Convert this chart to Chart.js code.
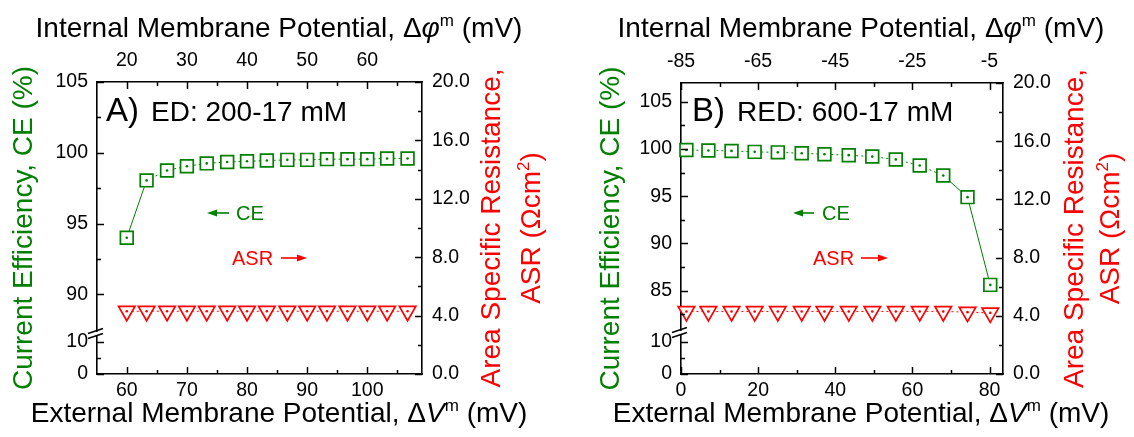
<!DOCTYPE html>
<html>
<head>
<meta charset="utf-8">
<script src="https://cdn.jsdelivr.net/npm/chart.js@4.4.1/dist/chart.umd.min.js"></script>
<style>
  html, body { margin: 0; padding: 0; background: #fff; }
  #wrap { position: relative; width: 1134px; height: 437px; }
  canvas { position: absolute; top: 0; }
</style>
</head>
<body>
<div id="wrap">
  <canvas id="chartED" width="567" height="437" style="left:0"></canvas>
  <canvas id="chartRED" width="567" height="437" style="left:567px"></canvas>
</div>
<script>
// ---- ED: 200-17 mM ----
const edVext = [60, 63.3, 66.7, 70, 73.3, 76.7, 80, 83.3, 86.7, 90, 93.3, 96.7, 100, 103.3, 106.7];
const edCE = [94.0, 98.05, 98.75, 99.05, 99.25, 99.35, 99.4, 99.45, 99.5, 99.5, 99.55, 99.55, 99.55, 99.6, 99.6];
const edASR = [4.3, 4.3, 4.3, 4.3, 4.3, 4.3, 4.3, 4.3, 4.3, 4.3, 4.3, 4.3, 4.3, 4.3, 4.3];

// ---- RED: 600-17 mM ----
const redVext = [1.4, 7.1, 13.1, 19.1, 25.1, 31.3, 37.2, 43.5, 49.6, 55.7, 61.9, 68.0, 74.3, 80.2];
const redCE = [99.9, 99.85, 99.8, 99.7, 99.65, 99.55, 99.45, 99.35, 99.2, 98.9, 98.25, 97.2, 94.9, 85.6];
const redASR = [4.3, 4.3, 4.3, 4.3, 4.3, 4.3, 4.3, 4.3, 4.3, 4.3, 4.3, 4.3, 4.25, 4.2];

// tick labels
const edExtTicks = [60, 70, 80, 90, 100];
const edIntTicks = [20, 30, 40, 50, 60];
const edCeTicks = [0, 10, 90, 95, 100, 105];
const redExtTicks = [0, 20, 40, 60, 80];
const redIntTicks = [-85, -65, -45, -25, -5];
const redCeTicks = [0, 10, 85, 90, 95, 100, 105];
const asrTicks = [0, 4, 8, 12, 16, 20];

const FONT = '"Liberation Sans", Arial, sans-serif';
const GREEN = '#008000';
const RED = '#ff0000';

// linear axis with a cut: [min, lowTop] uses the bottom `split` of the axis, [highBottom, max] the rest
class BrokenLinearScale extends Chart.LinearScale {
  static id = 'brokenLinear';
  static defaults = Chart.LinearScale.defaults;

  getPixelForValue(value) {
    if (value === null || isNaN(value)) return NaN;
    const g = this.options.gap;
    let dec;
    if (value <= g.lowTop) dec = (value - this.min) / (g.lowTop - this.min) * g.split;
    else dec = g.split + (value - g.highBottom) / (this.max - g.highBottom) * (1 - g.split);
    return this.getPixelForDecimal(dec);
  }

  getValueForPixel(pixel) {
    const g = this.options.gap;
    const dec = this.getDecimalForPixel(pixel);
    if (dec <= g.split) return this.min + dec / g.split * (g.lowTop - this.min);
    return g.highBottom + (dec - g.split) / (1 - g.split) * (this.max - g.highBottom);
  }
}
Chart.register(BrokenLinearScale);

// write a run of text pieces (normal / italic / superscript) on one baseline
function drawRich(ctx, parts, x, y, align) {
  const fontOf = p => (p.italic ? 'italic ' : '') + p.size + 'px ' + FONT;
  let total = 0;
  parts.forEach(p => { ctx.font = fontOf(p); p.w = ctx.measureText(p.t).width; total += p.w; });
  let cx = align === 'center' ? x - total / 2 : (align === 'right' ? x - total : x);
  ctx.textAlign = 'left';
  ctx.textBaseline = 'alphabetic';
  parts.forEach(p => {
    ctx.font = fontOf(p);
    ctx.fillText(p.t, cx, y - (p.rise || 0));
    cx += p.w;
  });
}

function arrow(ctx, x1, x2, y, color) {
  // arrow pointing from x1 to x2
  const dir = Math.sign(x2 - x1);
  ctx.save();
  ctx.strokeStyle = color;
  ctx.fillStyle = color;
  ctx.lineWidth = 1.6;
  ctx.beginPath();
  ctx.moveTo(x1, y);
  ctx.lineTo(x2 - dir * 6, y);
  ctx.stroke();
  ctx.beginPath();
  ctx.moveTo(x2, y);
  ctx.lineTo(x2 - dir * 10, y - 3.5);
  ctx.lineTo(x2 - dir * 10, y + 3.5);
  ctx.closePath();
  ctx.fill();
  ctx.restore();
}

const decor = {
  id: 'decor',
  afterDatasetsDraw(chart) {
    // small dot in the middle of every marker
    const ctx = chart.ctx;
    ctx.save();
    chart.data.datasets.forEach((ds, i) => {
      ctx.fillStyle = ds.borderColor;
      chart.getDatasetMeta(i).data.forEach(pt => {
        ctx.beginPath();
        ctx.arc(pt.x, pt.y, 1.3, 0, Math.PI * 2);
        ctx.fill();
      });
    });
    ctx.restore();
  },
  afterDraw(chart, args, opts) {
    const ctx = chart.ctx;
    const a = chart.chartArea;

    // inward ticks, major and minor
    ctx.save();
    ctx.strokeStyle = '#000';
    ctx.lineWidth = 1.5;
    ['x', 'x2', 'y', 'y2'].forEach(id => {
      const s = chart.scales[id];
      const marks = s.ticks.map(t => [t.value, 7]).concat(opts.minors[id].map(v => [v, 4]));
      marks.forEach(([v, len]) => {
        const p = Math.round(s.getPixelForValue(v)) + 0.5;
        ctx.beginPath();
        if (id === 'x') { ctx.moveTo(p, a.bottom); ctx.lineTo(p, a.bottom - len); }
        else if (id === 'x2') { ctx.moveTo(p, a.top); ctx.lineTo(p, a.top + len); }
        else if (id === 'y') { ctx.moveTo(a.left, p); ctx.lineTo(a.left + len, p); }
        else { ctx.moveTo(a.right, p); ctx.lineTo(a.right - len, p); }
        ctx.stroke();
      });
    });

    // axis break marks on the CE axis
    const ys = chart.scales.y;
    const yb = ys.getPixelForDecimal(ys.options.gap.split);
    ctx.fillStyle = '#fff';
    ctx.fillRect(a.left - 2, yb - 2, 4, 4);
    ctx.beginPath();
    ctx.moveTo(a.left - 9, yb - 0.5); ctx.lineTo(a.left + 6, yb - 5.5);
    ctx.moveTo(a.left - 9, yb + 4.5); ctx.lineTo(a.left + 6, yb - 0.5);
    ctx.stroke();
    ctx.restore();

    // axis titles
    ctx.save();
    ctx.fillStyle = '#000';
    const cx = opts.titleX;
    drawRich(ctx, [
      { t: 'Internal Membrane Potential, Δ', size: 28 },
      { t: 'φ', size: 28, italic: true },
      { t: 'm', size: 17, rise: 11 },
      { t: ' (mV)', size: 28 }
    ], cx, 37, 'center');
    drawRich(ctx, [
      { t: 'External Membrane Potential, Δ', size: 28 },
      { t: 'V', size: 28, italic: true },
      { t: 'm', size: 17, rise: 11 },
      { t: ' (mV)', size: 28 }
    ], cx, 422, 'center');

    const midY = (a.top + a.bottom) / 2;
    ctx.save();
    ctx.translate(opts.ceTitleX, midY);
    ctx.rotate(-Math.PI / 2);
    ctx.fillStyle = GREEN;
    drawRich(ctx, [{ t: 'Current Efficiency, CE (%)', size: 28 }], 0, 0, 'center');
    ctx.restore();

    ctx.save();
    ctx.translate(opts.asrTitleX[0], midY);
    ctx.rotate(-Math.PI / 2);
    ctx.fillStyle = RED;
    drawRich(ctx, [{ t: 'Area Specific Resistance,', size: 28 }], 0, 0, 'center');
    ctx.restore();
    ctx.save();
    ctx.translate(opts.asrTitleX[1], midY);
    ctx.rotate(-Math.PI / 2);
    ctx.fillStyle = RED;
    drawRich(ctx, [
      { t: 'ASR (Ωcm', size: 28 },
      { t: '2', size: 17, rise: 11 },
      { t: ')', size: 28 }
    ], 0, 0, 'center');
    ctx.restore();

    // panel label
    ctx.fillStyle = '#000';
    drawRich(ctx, [{ t: opts.panel[0], size: 33 }], opts.panelX[0], 121, 'left');
    drawRich(ctx, [{ t: opts.panel[1], size: 28 }], opts.panelX[1], 121, 'left');

    // series hints
    ctx.fillStyle = GREEN;
    const ce = opts.ceHint;
    arrow(ctx, ce.arrow[1], ce.arrow[0], ce.y, GREEN);
    drawRich(ctx, [{ t: 'CE', size: 20 }], ce.textX, ce.y + 7, 'left');
    ctx.fillStyle = RED;
    const asr = opts.asrHint;
    drawRich(ctx, [{ t: 'ASR', size: 20 }], asr.textX, asr.y + 7, 'left');
    arrow(ctx, asr.arrow[0], asr.arrow[1], asr.y, RED);
    ctx.restore();
  }
};

function axis(position, min, max, ticks, size, padding, extra) {
  const horizontal = position === 'top' || position === 'bottom';
  return Object.assign({
    type: 'linear',
    position: position,
    min: min,
    max: max,
    grid: { display: false, drawTicks: false, tickLength: 0 },
    border: { display: true, color: '#000', width: 1.6 },
    ticks: {
      color: '#000',
      font: { family: FONT, size: 19.5 },
      padding: padding,
      maxRotation: 0,
      autoSkip: false,
      callback: v => String(v)
    },
    afterBuildTicks: s => { s.ticks = ticks.map(v => ({ value: v })); },
    afterFit: s => { if (horizontal) s.height = size; else s.width = size; }
  }, extra || {});
}

function makePanel(id, p) {
  const pts = (xs, ys) => xs.map((x, i) => ({ x: x, y: ys[i] }));
  const y2 = axis('right', 0, 20, asrTicks, 567 - p.area.right, 10);
  y2.ticks.callback = v => v.toFixed(1);
  new Chart(document.getElementById(id), {
    type: 'line',
    data: {
      datasets: [
        {
          label: 'ASR',
          data: pts(p.vext, p.asr),
          yAxisID: 'y2',
          borderColor: RED,
          borderWidth: 1,
          borderDash: [2, 3],
          pointStyle: 'triangle',
          rotation: 180,
          pointRadius: 9.5,
          pointBorderWidth: 1.7,
          pointBackgroundColor: '#fff',
          pointBorderColor: RED,
          clip: false
        },
        {
          label: 'CE',
          data: pts(p.vext, p.ce),
          yAxisID: 'y',
          borderColor: GREEN,
          borderWidth: 1,
          segment: {
            borderDash: c => Math.hypot(c.p1.x - c.p0.x, c.p1.y - c.p0.y) > 30 ? [] : [2, 3]
          },
          pointStyle: 'rect',
          pointRadius: 9,
          pointBorderWidth: 1.7,
          pointBackgroundColor: '#fff',
          pointBorderColor: GREEN,
          clip: false
        }
      ]
    },
    options: {
      responsive: false,
      animation: false,
      layout: { padding: 0 },
      plugins: {
        legend: { display: false },
        tooltip: { enabled: false },
        decor: p.decor
      },
      scales: {
        x: axis('bottom', p.xRange[0], p.xRange[1], p.extTicks, 437 - p.area.bottom, 5),
        x2: axis('top', p.xRange[0] + p.shift, p.xRange[1] + p.shift, p.intTicks, p.area.top, 10),
        y: axis('left', 0, p.ceMax, p.ceTicks, p.area.left, 9, { type: 'brokenLinear', gap: p.gap }),
        y2: y2
      }
    },
    plugins: [decor]
  });
}

makePanel('chartED', {
  vext: edVext, ce: edCE, asr: edASR,
  xRange: [55.05, 109.1], shift: -40,
  extTicks: edExtTicks, intTicks: edIntTicks, ceTicks: edCeTicks,
  ceMax: 105,
  gap: { lowTop: 12.5, highBottom: 87.2, split: 40 / 292 },
  area: { left: 97, right: 422, top: 82, bottom: 374 },
  decor: {
    minors: {
      x: [65, 75, 85, 95, 105], x2: [25, 35, 45, 55, 65],
      y: [5, 92.5, 97.5, 102.5], y2: [2, 6, 10, 14, 18]
    },
    titleX: 279, ceTitleX: 32, asrTitleX: [500, 540],
    panel: ['A)', 'ED: 200-17 mM'], panelX: [106, 151],
    ceHint: { arrow: [207, 229], textX: 236, y: 213 },
    asrHint: { arrow: [281, 307], textX: 232, y: 258 }
  }
});

makePanel('chartRED', {
  vext: redVext, ce: redCE, asr: redASR,
  xRange: [0, 83.5], shift: -85,
  extTicks: redExtTicks, intTicks: redIntTicks, ceTicks: redCeTicks,
  ceMax: 107,
  gap: { lowTop: 12.8, highBottom: 80.5, split: 41 / 291 },
  area: { left: 114, right: 436, top: 83, bottom: 374 },
  decor: {
    minors: {
      x: [10, 30, 50, 70], x2: [-75, -55, -35, -15],
      y: [5, 82.5, 87.5, 92.5, 97.5, 102.5], y2: [2, 6, 10, 14, 18]
    },
    titleX: 294, ceTitleX: 52, asrTitleX: [516, 552],
    panel: ['B)', 'RED: 600-17 mM'], panelX: [125, 170],
    ceHint: { arrow: [226, 247], textX: 255, y: 213 },
    asrHint: { arrow: [294, 321], textX: 246, y: 258 }
  }
});
</script>
</body>
</html>
